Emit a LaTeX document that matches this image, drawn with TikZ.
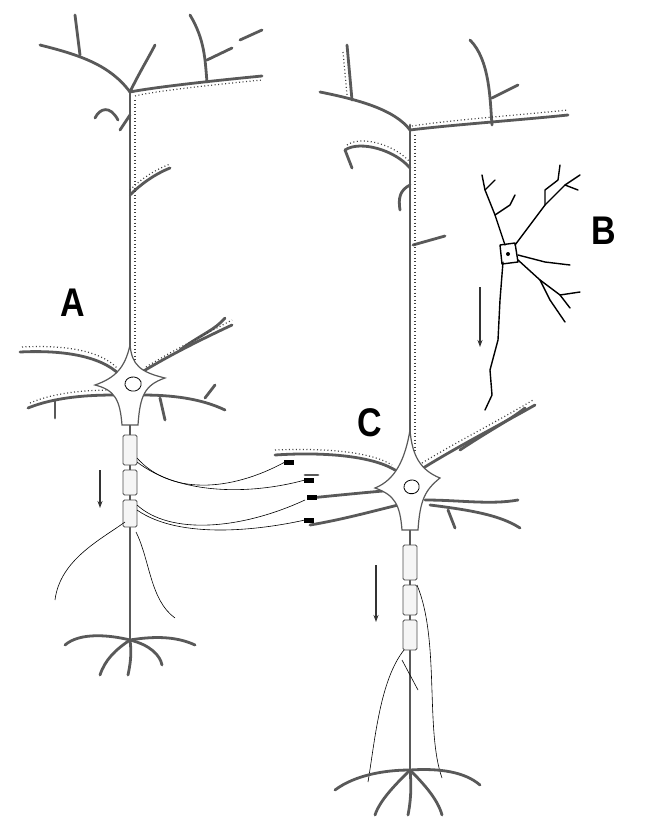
\documentclass[tikz,border=0pt]{standalone}
\usepackage{fontspec}
\setmainfont{Liberation Sans}
\usetikzlibrary{arrows.meta}
\begin{document}
\begin{tikzpicture}[x=1pt,y=-1pt,
  dend/.style={draw=gray!70!black,line width=2.8pt,line cap=round,line join=round},
  thin/.style={draw=gray!70!black,line width=1.3pt,line cap=round},
  spine/.style={draw=gray!50!black,line width=1.2pt,dash pattern=on 1pt off 2.5pt},
  fib/.style={draw=black,line width=0.6pt},
  blk/.style={draw=black,line width=1.4pt,line cap=round,line join=round},
  myel/.style={draw=gray!60!black,fill=gray!8,line width=0.8pt,rounded corners=1.5pt},
  lab/.style={font=\bfseries\fontsize{40}{40}\selectfont,xscale=0.85},
  arr/.style={draw=black!80,line width=1.1pt,-{Stealth[length=7pt,width=5pt]}}]
\useasboundingbox (0,0) rectangle (646,838);
% ===== Neuron A =====
\begin{scope}
\path[dend] (130,385) -- (130,90);
\path[dend] (40,45) .. controls (80,55) and (110,65) .. (130,92);
\path[dend] (75,15) -- (80,55);
\path[dend] (130,92) .. controls (150,88) and (200,82) .. (262,76);
\path[dend] (190,15) .. controls (205,40) and (205,60) .. (207,82);
\path[dend] (207,60) -- (232,48);
\path[dend] (240,40) -- (262,30);
\path[dend] (130,92) .. controls (138,75) and (150,55) .. (155,45);
\path[dend] (118,120) .. controls (110,105) and (100,108) .. (95,118);
\path[dend] (130,115) -- (120,130);
\path[dend] (130,195) .. controls (145,180) and (160,172) .. (170,168);
\path[spine] (135,100) -- (135,380);
\path[spine] (135,96) .. controls (150,92) and (200,86) .. (262,80);
\path[spine] (130,190) .. controls (145,175) and (160,168) .. (170,164);
% soma
\path[dend] (20,352) .. controls (60,350) and (100,355) .. (120,375);
\path[dend] (28,408) .. controls (60,395) and (100,395) .. (118,395);
\path[dend] (55,400) -- (55,418);
\path[dend] (142,372) .. controls (170,355) and (200,340) .. (232,325);
\path[dend] (180,350) .. controls (200,335) and (215,330) .. (225,318);
\path[dend] (142,395) .. controls (170,395) and (200,398) .. (225,410);
\path[dend] (205,398) -- (215,385);
\path[dend] (160,398) -- (165,420);
\path[spine] (22,347) .. controls (60,345) and (100,349) .. (118,369);
\path[spine] (146,367) .. controls (172,351) and (202,336) .. (232,320);
\path[spine] (30,403) .. controls (60,390) and (100,390) .. (118,390);
\path[draw=gray!70!black,fill=white,line width=1.2pt]
 (130,345) .. controls (132,365) and (140,372) .. (165,378)
 .. controls (145,385) and (140,395) .. (138,425)
 -- (122,425) .. controls (120,400) and (115,390) .. (95,385)
 .. controls (115,378) and (125,368) .. (130,345) -- cycle;
\path[draw=black,line width=0.8pt] (125,385) .. controls (124,376) and (138,374) .. (141,382) .. controls (143,392) and (128,395) .. (125,385) -- cycle;
% axon
\path[draw=gray!70!black,line width=1.6pt] (130,425) -- (130,640);
\path[myel] (123,435) rectangle (137,465);
\path[myel] (123,470) rectangle (137,495);
\path[myel] (123,500) rectangle (137,527);
\path[dend] (130,640) .. controls (110,635) and (80,632) .. (65,645);
\path[dend] (130,640) .. controls (115,650) and (105,660) .. (100,675);
\path[dend] (130,640) .. controls (132,655) and (130,665) .. (128,675);
\path[dend] (130,640) .. controls (150,645) and (160,655) .. (162,665);
\path[dend] (130,640) .. controls (160,635) and (180,638) .. (195,645);
\path[fib] (125,522) .. controls (100,540) and (60,560) .. (55,600);
\path[fib] (136,532) .. controls (150,560) and (150,600) .. (175,618);
\path[fib] (137,458) .. controls (170,495) and (230,492) .. (285,462);
\path[fib] (137,462) .. controls (180,495) and (250,495) .. (305,480);
\path[fib] (137,505) .. controls (170,535) and (240,530) .. (305,500);
\path[fib] (137,510) .. controls (180,540) and (260,530) .. (305,520);
\end{scope}
% ===== Neuron C =====
\begin{scope}
\path[dend] (410,485) -- (410,125);
\path[dend] (320,92) .. controls (360,100) and (395,110) .. (410,130);
\path[dend] (347,45) -- (352,100);
\path[dend] (410,130) .. controls (450,125) and (520,120) .. (568,115);
\path[dend] (470,40) .. controls (490,60) and (490,100) .. (492,125);
\path[dend] (492,98) -- (518,85);
\path[dend] (345,150) .. controls (360,140) and (395,150) .. (410,168);
\path[dend] (345,150) -- (352,168);
\path[dend] (410,185) .. controls (400,190) and (398,198) .. (400,210);
\path[dend] (413,245) -- (445,236);
\path[spine] (415,135) -- (415,470);
\path[spine] (412,126) .. controls (450,120) and (520,115) .. (568,110);
\path[spine] (343,52) -- (347,95);
\path[spine] (347,145) .. controls (362,135) and (395,145) .. (410,162);
% soma C dendrites
\path[dend] (275,455) .. controls (320,452) and (370,455) .. (395,470);
\path[dend] (310,498) .. controls (340,495) and (370,492) .. (395,490);
\path[dend] (310,525) .. controls (340,520) and (370,512) .. (398,505);
\path[dend] (318,475) -- (305,475);
\path[dend] (420,470) .. controls (460,445) and (500,425) .. (535,405);
\path[dend] (460,450) .. controls (490,430) and (510,420) .. (525,408);
\path[dend] (425,500) .. controls (460,500) and (490,505) .. (518,500);
\path[dend] (430,505) .. controls (470,510) and (500,515) .. (520,528);
\path[dend] (448,510) -- (455,528);
\path[spine] (275,450) .. controls (320,448) and (370,451) .. (392,465);
\path[spine] (422,463) .. controls (460,440) and (500,420) .. (533,400);
\path[draw=gray!70!black,fill=white,line width=1.2pt]
 (410,430) .. controls (412,455) and (420,470) .. (440,478)
 .. controls (425,490) and (420,500) .. (418,530)
 -- (402,530) .. controls (400,505) and (395,495) .. (375,488)
 .. controls (395,480) and (405,460) .. (410,430) -- cycle;
\path[draw=black,line width=0.8pt] (404,488) .. controls (403,479) and (417,477) .. (419,485) .. controls (421,495) and (406,497) .. (404,488) -- cycle;
% synaptic boutons
\foreach \p in {(290,462),(310,480),(313,497),(310,520)}
  \path[fill=black] \p ++(-6,-2) -- ++(10,0) -- ++(0,5) -- ++(-10,0) -- cycle;
% axon
\path[draw=gray!70!black,line width=1.6pt] (410,530) -- (410,770);
\path[myel] (403,545) rectangle (417,580);
\path[myel] (403,585) rectangle (417,615);
\path[myel] (403,620) rectangle (417,650);
\path[fib] (404,650) .. controls (380,680) and (375,740) .. (368,782);
\path[fib] (417,585) .. controls (440,640) and (425,730) .. (442,778);
\path[fib] (402,660) -- (418,690);
\path[dend] (410,770) .. controls (385,770) and (355,775) .. (335,790);
\path[dend] (410,770) .. controls (395,785) and (380,800) .. (375,815);
\path[dend] (410,770) .. controls (412,790) and (410,805) .. (408,815);
\path[dend] (410,770) .. controls (425,785) and (438,800) .. (442,815);
\path[dend] (410,770) .. controls (440,768) and (465,772) .. (480,785);
\end{scope}
% ===== Neuron B =====
\path[blk] (500,245) -- (515,243) -- (518,262) -- (502,264) -- cycle;
\path[fill=black] (508,254) circle (2);
\path[blk] (505,245) -- (495,215) -- (485,190) -- (482,175);
\path[blk] (495,215) -- (510,205) -- (515,195);
\path[blk] (485,190) -- (495,180);
\path[blk] (515,245) -- (530,225) -- (545,205) -- (565,185) -- (580,175);
\path[blk] (545,205) -- (545,190) -- (558,180) -- (560,165);
\path[blk] (565,185) -- (578,190);
\path[blk] (518,255) -- (545,262) -- (570,265);
\path[blk] (518,260) -- (540,280) -- (560,295) -- (580,292);
\path[blk] (540,280) -- (550,300) -- (565,322);
\path[blk] (560,295) -- (570,308);
\path[blk] (503,262) -- (500,300) -- (498,340) -- (490,370) -- (492,395) -- (485,410);
% arrows and labels
\coordinate (a1) at (100,470); \coordinate (a2) at (100,508);
\path[arr] (a1) -- (a2);
\coordinate (b1) at (480,287); \coordinate (b2) at (480,347);
\path[arr] (b1) -- (b2);
\coordinate (c1) at (376,565); \coordinate (c2) at (376,622);
\path[arr] (c1) -- (c2);
\node[lab] (labA) at (73,303) {A};
\node[lab] (labB) at (604,231) {B};
\node[lab] (labC) at (370,423) {C};
\end{tikzpicture}
\end{document}
